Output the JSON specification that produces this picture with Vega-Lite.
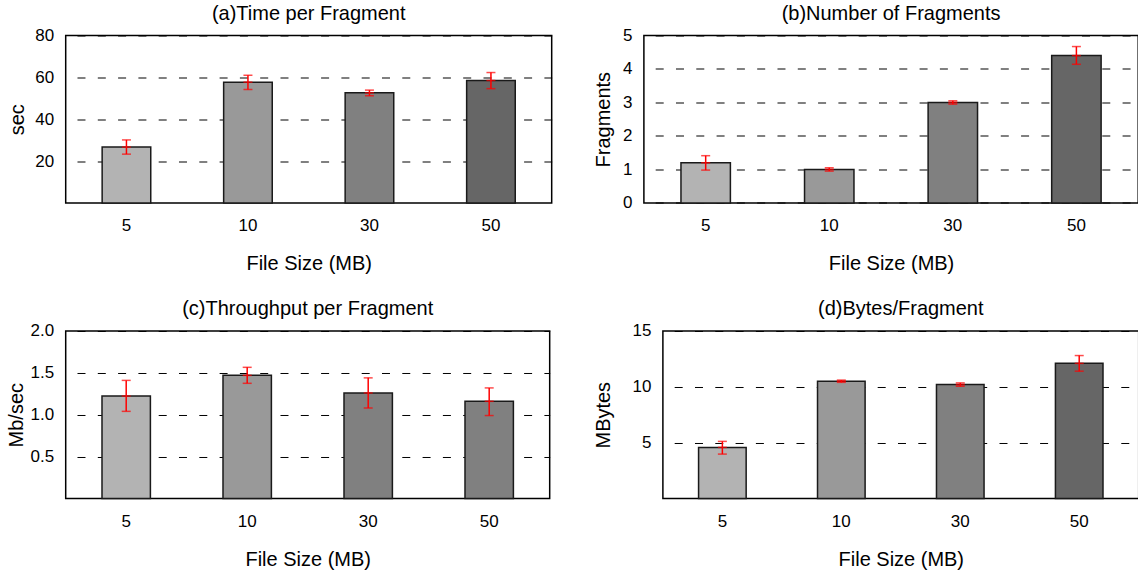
{
  "$schema": "https://vega.github.io/schema/vega-lite/v6.json",
  "padding": {"left": 4.7, "top": 2.5, "right": -2, "bottom": 0},
  "columns": 2,
  "align": "none",
  "spacing": {"row": 22.5, "column": 40.2},
  "concat": [
    {
      "width": 486, "height": 167.4,
      "title": "(a)Time per Fragment",
      "data": {"values": [
        {"size": "5", "value": 26.7, "lo": 23.3, "hi": 30.1},
        {"size": "10", "value": 57.7, "lo": 54.2, "hi": 61.0},
        {"size": "30", "value": 52.6, "lo": 51.2, "hi": 53.9},
        {"size": "50", "value": 58.5, "lo": 54.6, "hi": 62.3}
      ]},
      "encoding": {"x": {"field": "size", "type": "ordinal", "sort": ["5", "10", "30", "50"], "scale": {"paddingInner": 0.6, "paddingOuter": 0.3}, "title": "File Size (MB)"}},
      "layer": [
        {"mark": {"type": "bar", "stroke": "#1a1a1a", "strokeWidth": 1.5},
         "encoding": {
           "y": {"field": "value", "type": "quantitative", "title": "sec", "scale": {"domain": [0, 80], "nice": false}, "axis": {"values": [20, 40, 60, 80], "tickCount": 4, "titlePadding": 8.2}},
           "color": {"field": "size", "type": "ordinal", "legend": null, "scale": {"domain": ["5", "10", "30", "50"], "range": ["#b3b3b3", "#999999", "#808080", "#666666"]}}}},
        {"mark": {"type": "rule", "color": "#ff0000", "strokeWidth": 1.5},
         "encoding": {"y": {"field": "lo", "type": "quantitative", "title": "sec"}, "y2": {"field": "hi"}}},
        {"mark": {"type": "tick", "color": "#ff0000", "size": 9, "thickness": 1.5},
         "encoding": {"y": {"field": "lo", "type": "quantitative", "title": "sec"}}},
        {"mark": {"type": "tick", "color": "#ff0000", "size": 9, "thickness": 1.5},
         "encoding": {"y": {"field": "hi", "type": "quantitative", "title": "sec"}}},
        {"mark": {"type": "tick", "color": "#ff0000", "size": 9, "thickness": 1.5},
         "encoding": {"y": {"field": "value", "type": "quantitative", "title": "sec"}}}
      ]
    },
    {
      "width": 494.3, "height": 167.4,
      "title": "(b)Number of Fragments",
      "data": {"values": [
        {"size": "5", "value": 1.2, "lo": 0.98, "hi": 1.41},
        {"size": "10", "value": 1.0, "lo": 0.95, "hi": 1.05},
        {"size": "30", "value": 3.0, "lo": 2.95, "hi": 3.05},
        {"size": "50", "value": 4.4, "lo": 4.14, "hi": 4.67}
      ]},
      "encoding": {"x": {"field": "size", "type": "ordinal", "sort": ["5", "10", "30", "50"], "scale": {"paddingInner": 0.6, "paddingOuter": 0.3}, "title": "File Size (MB)"}},
      "layer": [
        {"mark": {"type": "bar", "stroke": "#1a1a1a", "strokeWidth": 1.5},
         "encoding": {
           "y": {"field": "value", "type": "quantitative", "title": "Fragments", "scale": {"domain": [0, 5], "nice": false}, "axis": {"values": [0, 1, 2, 3, 4, 5], "tickCount": 6, "titlePadding": 0}},
           "color": {"field": "size", "type": "ordinal", "legend": null, "scale": {"domain": ["5", "10", "30", "50"], "range": ["#b3b3b3", "#999999", "#808080", "#666666"]}}}},
        {"mark": {"type": "rule", "color": "#ff0000", "strokeWidth": 1.5},
         "encoding": {"y": {"field": "lo", "type": "quantitative", "title": "Fragments"}, "y2": {"field": "hi"}}},
        {"mark": {"type": "tick", "color": "#ff0000", "size": 9, "thickness": 1.5},
         "encoding": {"y": {"field": "lo", "type": "quantitative", "title": "Fragments"}}},
        {"mark": {"type": "tick", "color": "#ff0000", "size": 9, "thickness": 1.5},
         "encoding": {"y": {"field": "hi", "type": "quantitative", "title": "Fragments"}}},
        {"mark": {"type": "tick", "color": "#ff0000", "size": 9, "thickness": 1.5},
         "encoding": {"y": {"field": "value", "type": "quantitative", "title": "Fragments"}}}
      ]
    },
    {
      "width": 484, "height": 167.4,
      "title": "(c)Throughput per Fragment",
      "data": {"values": [
        {"size": "5", "value": 1.223, "lo": 1.04, "hi": 1.41},
        {"size": "10", "value": 1.47, "lo": 1.375, "hi": 1.566},
        {"size": "30", "value": 1.26, "lo": 1.08, "hi": 1.44},
        {"size": "50", "value": 1.16, "lo": 0.99, "hi": 1.32}
      ]},
      "encoding": {"x": {"field": "size", "type": "ordinal", "sort": ["5", "10", "30", "50"], "scale": {"paddingInner": 0.6, "paddingOuter": 0.3}, "title": "File Size (MB)"}},
      "layer": [
        {"mark": {"type": "bar", "stroke": "#1a1a1a", "strokeWidth": 1.5},
         "encoding": {
           "y": {"field": "value", "type": "quantitative", "title": "Mb/sec", "scale": {"domain": [0, 2], "nice": false}, "axis": {"values": [0.5, 1, 1.5, 2], "tickCount": 4, "format": ".1f", "titlePadding": 9.6}},
           "color": {"field": "size", "type": "ordinal", "legend": null, "scale": {"domain": ["5", "10", "30", "50"], "range": ["#b3b3b3", "#999999", "#808080", "#808080"]}}}},
        {"mark": {"type": "rule", "color": "#ff0000", "strokeWidth": 1.5},
         "encoding": {"y": {"field": "lo", "type": "quantitative", "title": "Mb/sec"}, "y2": {"field": "hi"}}},
        {"mark": {"type": "tick", "color": "#ff0000", "size": 9, "thickness": 1.5},
         "encoding": {"y": {"field": "lo", "type": "quantitative", "title": "Mb/sec"}}},
        {"mark": {"type": "tick", "color": "#ff0000", "size": 9, "thickness": 1.5},
         "encoding": {"y": {"field": "hi", "type": "quantitative", "title": "Mb/sec"}}},
        {"mark": {"type": "tick", "color": "#ff0000", "size": 9, "thickness": 1.5},
         "encoding": {"y": {"field": "value", "type": "quantitative", "title": "Mb/sec"}}}
      ]
    },
    {
      "width": 475.8, "height": 167.4,
      "title": "(d)Bytes/Fragment",
      "data": {"values": [
        {"size": "5", "value": 4.57, "lo": 3.97, "hi": 5.11},
        {"size": "10", "value": 10.5, "lo": 10.4, "hi": 10.6},
        {"size": "30", "value": 10.2, "lo": 10.05, "hi": 10.35},
        {"size": "50", "value": 12.1, "lo": 11.4, "hi": 12.8}
      ]},
      "encoding": {"x": {"field": "size", "type": "ordinal", "sort": ["5", "10", "30", "50"], "scale": {"paddingInner": 0.6, "paddingOuter": 0.3}, "title": "File Size (MB)"}},
      "layer": [
        {"mark": {"type": "bar", "stroke": "#1a1a1a", "strokeWidth": 1.5},
         "encoding": {
           "y": {"field": "value", "type": "quantitative", "title": "MBytes", "scale": {"domain": [0, 15], "nice": false}, "axis": {"values": [5, 10, 15], "tickCount": 3, "titlePadding": 19}},
           "color": {"field": "size", "type": "ordinal", "legend": null, "scale": {"domain": ["5", "10", "30", "50"], "range": ["#b3b3b3", "#999999", "#808080", "#666666"]}}}},
        {"mark": {"type": "rule", "color": "#ff0000", "strokeWidth": 1.5},
         "encoding": {"y": {"field": "lo", "type": "quantitative", "title": "MBytes"}, "y2": {"field": "hi"}}},
        {"mark": {"type": "tick", "color": "#ff0000", "size": 9, "thickness": 1.5},
         "encoding": {"y": {"field": "lo", "type": "quantitative", "title": "MBytes"}}},
        {"mark": {"type": "tick", "color": "#ff0000", "size": 9, "thickness": 1.5},
         "encoding": {"y": {"field": "hi", "type": "quantitative", "title": "MBytes"}}},
        {"mark": {"type": "tick", "color": "#ff0000", "size": 9, "thickness": 1.5},
         "encoding": {"y": {"field": "value", "type": "quantitative", "title": "MBytes"}}}
      ]
    }
  ],
  "resolve": {"scale": {"color": "independent"}},
  "config": {
    "font": "Liberation Sans",
    "view": {"stroke": "#000000", "strokeWidth": 1.5},
    "axis": {
      "labelFont": "Liberation Sans", "labelFontSize": 17, "labelColor": "#000000",
      "titleFont": "Liberation Sans", "titleFontSize": 20, "titleFontWeight": "normal", "titleColor": "#000000",
      "ticks": false, "tickSize": 0, "domain": false, "labelPadding": 12, "labelOverlap": false
    },
    "axisX": {"grid": false, "labelPadding": 15, "titlePadding": 20, "labelAngle": 0},
    "axisY": {"grid": true, "gridColor": "#000000", "gridDash": [8, 12.3], "gridDashOffset": 9, "gridWidth": 1, "gridOpacity": 1, "minExtent": 30, "maxExtent": 30},
    "title": {"font": "Liberation Sans", "fontSize": 20, "fontWeight": "normal", "color": "#000000", "offset": 2.5, "frame": "group"}
  }
}
